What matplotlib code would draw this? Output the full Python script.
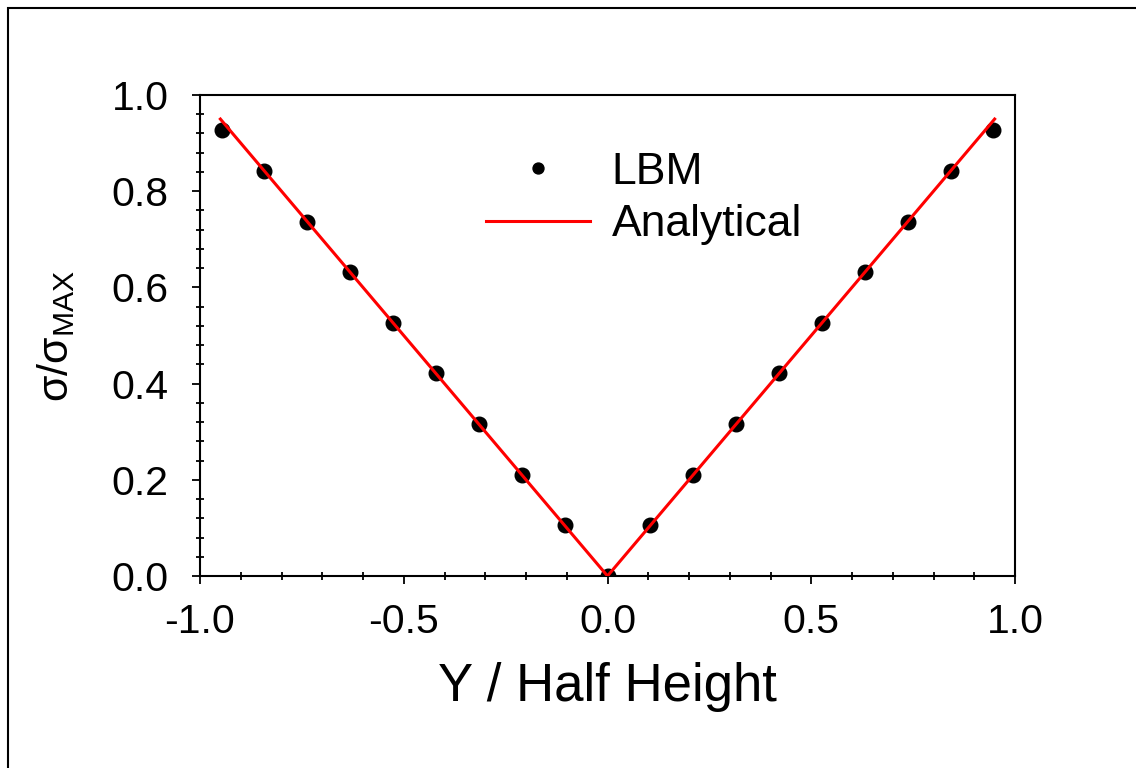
# Stress profile across channel: LBM vs analytical
import matplotlib
matplotlib.use("Agg")
import matplotlib.pyplot as plt
from matplotlib.ticker import MultipleLocator
from matplotlib.patches import Rectangle

plt.rcParams['font.family'] = ['Liberation Sans', 'DejaVu Sans']

# LBM points
lbm_y = [-0.947, -0.842, -0.737, -0.632, -0.526, -0.421, -0.316, -0.211, -0.105, 0.0,
         0.105, 0.211, 0.316, 0.421, 0.526, 0.632, 0.737, 0.842, 0.947]
lbm_s = [0.928, 0.842, 0.737, 0.632, 0.526, 0.421, 0.316, 0.211, 0.105, 0.0,
         0.105, 0.211, 0.316, 0.421, 0.526, 0.632, 0.737, 0.842, 0.928]

# analytical line
ana_y = [-0.95, 0.0, 0.95]
ana_s = [0.95, 0.0, 0.95]

fig = plt.figure(figsize=(11.36, 7.68), dpi=100)
ax = fig.add_axes([200/1136, 1 - 576/768, 815/1136, 481/768])

ax.plot(lbm_y, lbm_s, 'o', color='black', markersize=10.5, label="LBM", zorder=2)
ax.plot(ana_y, ana_s, '-', color='red', linewidth=2.2, label="Analytical", zorder=3)

ax.set_xlim(-1.0, 1.0)
ax.set_ylim(0.0, 1.0)
ax.xaxis.set_major_locator(MultipleLocator(0.5))
ax.xaxis.set_minor_locator(MultipleLocator(0.1))
ax.yaxis.set_major_locator(MultipleLocator(0.2))
ax.yaxis.set_minor_locator(MultipleLocator(0.04))
ax.xaxis.set_major_formatter(plt.FormatStrFormatter('%.1f'))
ax.yaxis.set_major_formatter(plt.FormatStrFormatter('%.1f'))

ax.tick_params(which='major', direction='out', length=5.5, width=1.3,
               labelsize=29.5, top=False, right=False)
ax.tick_params(axis='x', which='major', pad=14)
ax.tick_params(axis='y', which='major', pad=17)
ax.tick_params(which='minor', direction='inout', length=6, width=1.3,
               top=False, right=False)
for s in ax.spines.values():
    s.set_linewidth(1.5)

ax.set_xlabel("Y / Half Height", fontsize=38, labelpad=15)
ax.set_ylabel(r"σ/σ$_\mathregular{MAX}$", fontsize=31, labelpad=25)

fig.legend(loc='upper left', bbox_to_anchor=(486/1136, 1 - 152/768),
           bbox_transform=fig.transFigure, frameon=False, fontsize=32,
           handlelength=2.33, handletextpad=0.5, labelspacing=0.25,
           borderpad=0, borderaxespad=0, markerscale=0.75)

# outer frame
fig.patches.append(Rectangle((8/1136, -0.1), 1.2, 1 - 8/768 + 0.1,
                             transform=fig.transFigure, fill=False,
                             edgecolor='black', linewidth=1.5))

fig.savefig('out.png', dpi=100)
